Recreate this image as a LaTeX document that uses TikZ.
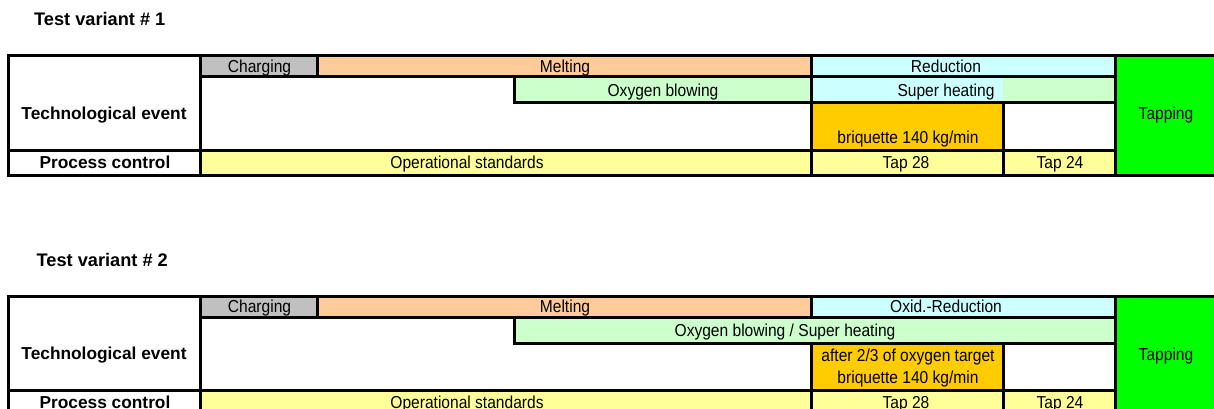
\documentclass[tikz,border=0pt]{standalone}
\usepackage{fontspec}
\setmainfont{Liberation Sans}
\newfontfamily\narrowfont[FakeStretch=0.9]{Liberation Sans}
\definecolor{cgray}{HTML}{C0C0C0}
\definecolor{cpeach}{HTML}{FFCC99}
\definecolor{ccyan}{HTML}{CCFFFF}
\definecolor{cmint}{HTML}{CCFFCC}
\definecolor{corange}{HTML}{FFCC00}
\definecolor{cyellow}{HTML}{FFFF99}
\definecolor{cgreen}{HTML}{00FF00}
\tikzset{
  cellb/.style={draw=black, line width=3pt},
  txt/.style={anchor=base, inner sep=0pt, font=\narrowfont\fontsize{17.3}{20}\selectfont},
  btxt/.style={anchor=base, inner sep=0pt, font=\fontsize{17.3}{20}\selectfont\bfseries},
  ttl/.style={anchor=base west, inner sep=0pt, font=\fontsize{18.2}{21}\selectfont\bfseries},
}
\begin{document}
\begin{tikzpicture}[x=1pt,y=-1pt]
\useasboundingbox (0,0) rectangle (1214,409);
\clip (0,0) rectangle (1214,409);
\fill[white] (0,0) rectangle (1214,409);
% ---------- Table 1 ----------
\node[ttl] (t1) at (34,26) {Test variant \# 1};
\begin{scope}
\fill[cgray] (200,56) rectangle (317,77);
\fill[cpeach] (317,56) rectangle (811,77);
\fill[ccyan] (811,56) rectangle (1115,77);
\fill[cmint] (514,77) rectangle (811,103);
\fill[ccyan] (811,77) rectangle (1003,103);
\fill[cmint] (1003,77) rectangle (1115,103);
\fill[corange] (811,103) rectangle (1003,150);
\fill[cyellow] (200,150) rectangle (1115,175);
\fill[cgreen] (1115,56) rectangle (1217,175);
\draw[cellb] (8,56) rectangle (1217,175);
\draw[cellb] (8,56) rectangle (200,150);
\draw[cellb] (8,150) rectangle (200,175);
\draw[cellb] (200,56) rectangle (317,77);
\draw[cellb] (317,56) rectangle (811,77);
\draw[cellb] (811,56) rectangle (1115,77);
\draw[cellb] (514,77) rectangle (811,103);
\draw[cellb] (811,77) rectangle (1115,103);
\draw[cellb] (811,103) rectangle (1003,150);
\draw[cellb] (1003,103) rectangle (1115,150);
\draw[cellb] (200,150) rectangle (811,175);
\draw[cellb] (811,150) rectangle (1003,175);
\draw[cellb] (1003,150) rectangle (1115,175);
\draw[cellb] (1115,56) rectangle (1217,175);
\end{scope}
\node[btxt] (te1) at (104,119) {Technological event};
\node[btxt] (pc1) at (105,168) {Process control};
\node[txt] (ch1) at (259.5,72.7) {Charging};
\node[txt] (me1) at (565,72.7) {Melting};
\node[txt] (re1) at (946,72.7) {Reduction};
\node[txt] (ox1) at (663,96.7) {Oxygen blowing};
\node[txt] (sh1) at (946,96.7) {Super heating};
\node[txt] (br1) at (908,143.3) {briquette 140 kg/min};
\node[txt] (os1) at (467,168) {Operational standards};
\node[txt] (ta1) at (906,168) {Tap 28};
\node[txt] (tb1) at (1060,168) {Tap 24};
\node[txt] (tp1) at (1166,120) {Tapping};
% ---------- Table 2 ----------
\node[ttl] (t2) at (36.5,266) {Test variant \# 2};
\begin{scope}[yshift=-240pt]
\fill[cgray] (200,56) rectangle (317,77);
\fill[cpeach] (317,56) rectangle (811,77);
\fill[ccyan] (811,56) rectangle (1115,77);
\fill[cmint] (514,77) rectangle (1115,103);
\fill[corange] (811,103) rectangle (1003,150);
\fill[cyellow] (200,150) rectangle (1115,175);
\fill[cgreen] (1115,56) rectangle (1217,175);
\draw[cellb] (8,56) rectangle (1217,175);
\draw[cellb] (8,56) rectangle (200,150);
\draw[cellb] (8,150) rectangle (200,175);
\draw[cellb] (200,56) rectangle (317,77);
\draw[cellb] (317,56) rectangle (811,77);
\draw[cellb] (811,56) rectangle (1115,77);
\draw[cellb] (514,77) rectangle (1115,103);
\draw[cellb] (811,103) rectangle (1003,150);
\draw[cellb] (1003,103) rectangle (1115,150);
\draw[cellb] (200,150) rectangle (811,175);
\draw[cellb] (811,150) rectangle (1003,175);
\draw[cellb] (1003,150) rectangle (1115,175);
\draw[cellb] (1115,56) rectangle (1217,175);
\node[btxt] (te2) at (104,119) {Technological event};
\node[btxt] (pc2) at (105,168) {Process control};
\node[txt] (ch2) at (259.5,72.7) {Charging};
\node[txt] (me2) at (565,72.7) {Melting};
\node[txt] (re2) at (946,72.7) {Oxid.-Reduction};
\node[txt] (ox2) at (785,96.7) {Oxygen blowing / Super heating};
\node[txt] (af2) at (908,121.7) {after 2/3 of oxygen target};
\node[txt] (br2) at (908,143.3) {briquette 140 kg/min};
\node[txt] (os2) at (467,168) {Operational standards};
\node[txt] (ta2) at (906,168) {Tap 28};
\node[txt] (tb2) at (1060,168) {Tap 24};
\node[txt] (tp2) at (1166,120) {Tapping};
\end{scope}
\end{tikzpicture}
\end{document}
